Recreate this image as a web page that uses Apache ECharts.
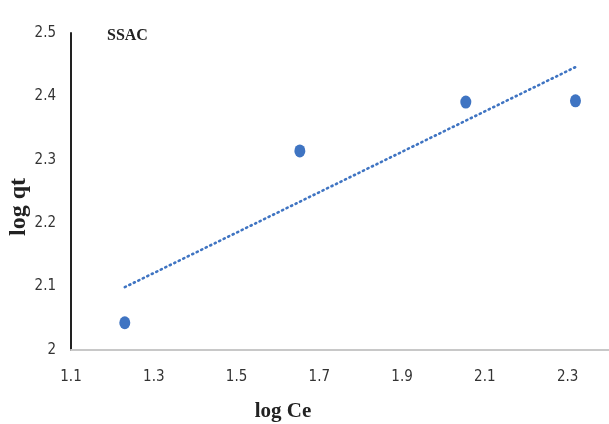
<!DOCTYPE html>
<html>
<head>
<meta charset="utf-8">
<script src="https://cdn.jsdelivr.net/npm/echarts@6/dist/echarts.min.js"></script>
<style>
  html, body { margin: 0; padding: 0; background: #fff; }
  #chart { width: 609px; height: 424px; }
</style>
</head>
<body>
<div id="chart"></div>
<script>
// Freundlich isotherm data for SSAC
const logCe = [1.230, 1.653, 2.054, 2.319];
const logQt = [2.043, 2.314, 2.391, 2.393];
const xTicks = [1.1, 1.3, 1.5, 1.7, 1.9, 2.1, 2.3];
const yTicks = [2, 2.1, 2.2, 2.3, 2.4, 2.5];

// Least-squares linear trendline over the measured points
function linearFit(xs, ys) {
  const n = xs.length;
  const mx = xs.reduce((a, b) => a + b, 0) / n;
  const my = ys.reduce((a, b) => a + b, 0) / n;
  let sxy = 0, sxx = 0;
  for (let i = 0; i < n; i++) {
    sxy += (xs[i] - mx) * (ys[i] - my);
    sxx += (xs[i] - mx) * (xs[i] - mx);
  }
  const slope = sxy / sxx;
  return { slope, intercept: my - slope * mx };
}
const fit = linearFit(logCe, logQt);
const xMinData = Math.min(...logCe), xMaxData = Math.max(...logCe);
const trend = [
  [xMinData, fit.intercept + fit.slope * xMinData],
  [xMaxData, fit.intercept + fit.slope * xMaxData]
];

const blue = '#3f74c2';
const tickFont = '"DejaVu Sans Condensed", "Liberation Sans Narrow", sans-serif';
const titleFont = '"Liberation Serif", "Times New Roman", serif';

const chart = echarts.init(document.getElementById('chart'));
chart.setOption({
  animation: false,
  backgroundColor: '#fff',
  grid: { left: 71, right: 0, top: 33, bottom: 74, containLabel: false },
  xAxis: {
    type: 'value',
    min: 1.1, max: 2.4, interval: 0.2,
    axisLine: { show: true, lineStyle: { color: '#c8c8c8', width: 2 } },
    axisTick: { show: false },
    splitLine: { show: false },
    axisLabel: {
      color: '#333', fontFamily: tickFont, fontSize: 15, margin: 20,
      showMaxLabel: false,
      formatter: v => (xTicks.some(t => Math.abs(t - v) < 1e-6) ? v.toFixed(1) : '')
    }
  },
  yAxis: {
    type: 'value',
    min: 2, max: 2.5, interval: 0.1,
    axisLine: { show: true, lineStyle: { color: '#222', width: 2 } },
    axisTick: { show: false },
    splitLine: { show: false },
    axisLabel: {
      color: '#333', fontFamily: tickFont, fontSize: 15, margin: 15,
      formatter: v => {
        const t = yTicks.find(t => Math.abs(t - v) < 1e-6);
        return t === undefined ? '' : String(t);
      }
    }
  },
  series: [
    {
      type: 'line',
      data: trend,
      symbol: 'none',
      lineStyle: { color: blue, width: 2.6, type: [1.2, 3.8], cap: 'round' },
      z: 2
    },
    {
      type: 'scatter',
      data: logCe.map((x, i) => [x, logQt[i]]),
      symbol: 'circle',
      symbolSize: [11, 13],
      itemStyle: { color: blue, opacity: 1 },
      emphasis: { disabled: true },
      z: 3
    }
  ],
  graphic: [
    {
      type: 'text', left: 107, top: 28,
      style: { text: 'SSAC', fontFamily: titleFont, fontWeight: 'bold', fontSize: 16, fill: '#222' }
    },
    {
      type: 'text', x: 283, y: 412,
      style: { text: 'log Ce', fontFamily: titleFont, fontWeight: 'bold', fontSize: 21, fill: '#222',
               textAlign: 'center', textVerticalAlign: 'middle' }
    },
    {
      type: 'text', x: 19, y: 207, rotation: Math.PI / 2,
      style: { text: 'log qt', fontFamily: titleFont, fontWeight: 'bold', fontSize: 24, fill: '#222',
               textAlign: 'center', textVerticalAlign: 'middle' }
    }
  ]
});
</script>
</body>
</html>
